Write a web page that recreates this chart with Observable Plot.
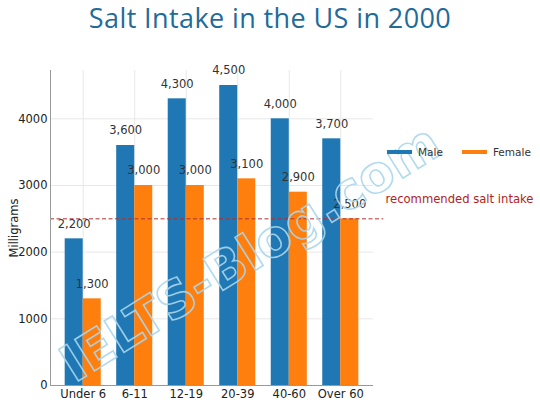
<!DOCTYPE html>
<html>
<head>
<meta charset="utf-8">
<script src="https://cdn.jsdelivr.net/npm/d3@7"></script>
<script src="https://cdn.jsdelivr.net/npm/@observablehq/plot@0.6"></script>
<style>
  html, body { margin: 0; padding: 0; background: #fff; }
  #wrap { position: relative; width: 540px; height: 405px; overflow: hidden; font-family: "DejaVu Sans", sans-serif; }
  #title { height: 40px; text-align: center; font-family: "Open Sans", sans-serif; font-size: 27px; color: #1f6b99; line-height: 35px; letter-spacing: 0.4px; }
  #legend { position: absolute; left: 387px; top: 146px; font-size: 10.5px; color: #333; display: flex; align-items: center; }
  .sw { display: inline-block; width: 25px; height: 4px; margin-right: 6px; }
  .it { display: flex; align-items: center; margin-right: 19px; }
</style>
</head>
<body>
<div id="wrap">
  <div id="title">Salt Intake in the US in 2000</div>
  <div id="chart"></div>
  <div id="legend"></div>
</div>
<script>
const categories = ["Under 6", "6-11", "12-19", "20-39", "40-60", "Over 60"];
const maleValues = [2200, 3600, 4300, 4500, 4000, 3700];
const femaleValues = [1300, 3000, 3000, 3100, 2900, 2500];
const seriesNames = ["Male", "Female"];
const seriesColors = ["#1f77b4", "#ff7f0e"];
const yTicks = [0, 1000, 2000, 3000, 4000];
const recommended = 2500;
const recommendedLabel = "recommended salt intake";

const barWidth = 0.35;
const xDomain = [-0.635, categories.length - 1 + 0.635];
const catTicks = categories.map((_, i) => i);

const rows = [];
categories.forEach((c, i) => {
  rows.push({cat: c, i, series: seriesNames[0], value: maleValues[i], x1: i - barWidth, x2: i});
  rows.push({cat: c, i, series: seriesNames[1], value: femaleValues[i], x1: i, x2: i + barWidth});
});

const chart = Plot.plot({
  width: 540,
  height: 365,
  marginTop: 30,
  marginBottom: 20,
  marginLeft: 50,
  marginRight: 167,
  style: {fontFamily: "DejaVu Sans, sans-serif", fontSize: "11.5px", color: "#333", background: "transparent", overflow: "visible"},
  x: {domain: xDomain, label: null},
  y: {domain: [0, 4725], label: null},
  color: {domain: seriesNames, range: seriesColors},
  marks: [
    Plot.ruleY(yTicks, {stroke: "#e8e8e8", strokeWidth: 1}),
    Plot.ruleX(catTicks, {stroke: "#e8e8e8", strokeWidth: 1}),
    Plot.rectY(rows, {x1: "x1", x2: "x2", y1: 0, y2: "value", fill: "series"}),
    Plot.ruleY([recommended], {x1: xDomain[0], x2: xDomain[1] + 0.2, stroke: "#b03030", strokeWidth: 1, strokeDasharray: "4,2.5"}),
    Plot.text([recommended], {x: xDomain[1], y: d => d, text: () => recommendedLabel, textAnchor: "start", dx: 12, dy: -20, fill: "#b22222", fontSize: 11.6}),
    Plot.text(rows, {x: d => (d.x1 + d.x2) / 2, y: "value", text: d => d3.format(",")(d.value), dy: -15, fill: "#333", fontSize: 11.5}),
    Plot.ruleX([xDomain[0]], {stroke: "#999", strokeWidth: 1}),
    Plot.ruleY([0], {stroke: "#999", strokeWidth: 1}),
    Plot.axisX({ticks: catTicks, tickFormat: i => categories[i], tickSize: 0, tickPadding: 4, fill: "#222", fontSize: 11.5, label: null}),
    Plot.axisY({ticks: yTicks, tickFormat: d => String(d), tickSize: 0, tickPadding: 3, fill: "#222", fontSize: 11.5, label: "Milligrams", labelAnchor: "center", labelArrow: "none", labelOffset: 41})
  ]
});
document.getElementById("chart").appendChild(chart);

// watermark
const svg = d3.select(chart);
svg.append("text")
  .attr("transform", "translate(252,216) rotate(-32)")
  .attr("text-anchor", "middle")
  .attr("dominant-baseline", "middle")
  .style("font-family", "DejaVu Sans, sans-serif")
  .style("font-weight", "bold")
  .style("font-size", "51px")
  .attr("fill", "none")
  .attr("stroke", "#a9d6ec")
  .attr("stroke-width", 1.6)
  .attr("stroke-opacity", 0.9)
  .text("IELTS-Blog.com");

// legend
const legend = d3.select("#legend");
seriesNames.forEach((s, k) => {
  const it = legend.append("div").attr("class", "it");
  it.append("span").attr("class", "sw").style("background", seriesColors[k]);
  it.append("span").text(s);
});
</script>
</body>
</html>
